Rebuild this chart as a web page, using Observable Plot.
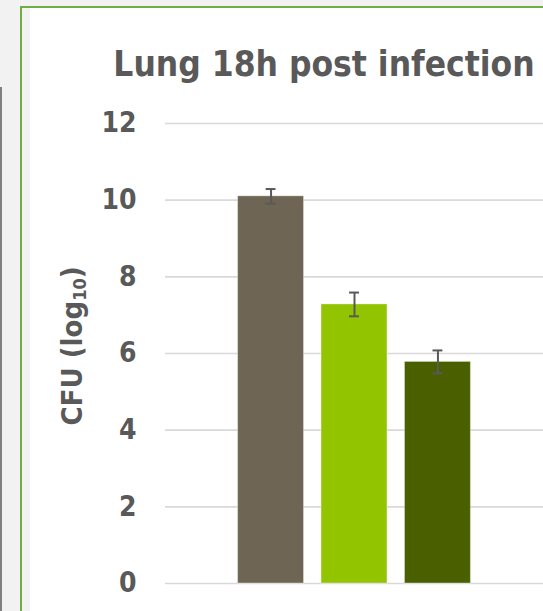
<!DOCTYPE html>
<html>
<head>
<meta charset="utf-8">
<script src="https://cdn.jsdelivr.net/npm/d3@7"></script>
<script src="https://cdn.jsdelivr.net/npm/@observablehq/plot@0.6"></script>
<style>
  html, body { margin: 0; padding: 0; }
  body { width: 543px; height: 611px; overflow: hidden; background: #f2f2f2; position: relative;
         font-family: "DejaVu Sans Condensed", "DejaVu Sans", sans-serif; font-stretch: condensed; }
  #edge { position: absolute; left: 0; top: 87px; width: 2px; height: 530px; background: #808080; }
  #panel { position: absolute; left: 20px; top: 6px; width: 700px; height: 700px;
           border-left: 2px solid #70ad47; border-top: 2px solid #70ad47; background: #fff;
           box-shadow: inset 8px 0 0 #f2f2f2; }
  #title { position: absolute; left: 0; width: 648px; top: 44px; text-align: center;
           font-size: 35px; font-weight: bold; color: #595959; line-height: 40px; white-space: nowrap; }
  #ylabel { position: absolute; left: 72px; top: 346px; transform: translate(-50%, -50%) rotate(-90deg);
            font-size: 29px; font-weight: bold; color: #595959; white-space: nowrap; line-height: 30px; }
  #ylabel sub { font-size: 0.62em; vertical-align: -0.25em; line-height: 0; }
  #chart { position: absolute; left: 0; top: 0; }
  #chart svg { background: transparent; }
</style>
</head>
<body>
<div id="edge"></div>
<div id="panel"></div>
<div id="title">Lung 18h post infection</div>
<div id="ylabel">CFU (log<sub>10</sub>)</div>
<div id="chart"></div>
<script>
const groups = ["Group 1", "Group 2", "Group 3"];
const values = [10.1, 7.28, 5.78];
const errors = [0.19, 0.31, 0.30];
const colors = ["#6e6554", "#93c400", "#4a6000"];
const yTicks = [0, 2, 4, 6, 8, 10, 12];

const data = groups.map((g, i) => ({group: g, value: values[i], err: errors[i], color: colors[i]}));

const plot = Plot.plot({
  width: 543,
  height: 611,
  marginTop: 123,
  marginBottom: 28,
  marginLeft: 165,
  marginRight: 0,
  style: {background: "transparent", fontFamily: "'DejaVu Sans Condensed', 'DejaVu Sans', sans-serif"},
  x: {domain: groups, paddingInner: 0.21, paddingOuter: 0.87, align: 0.5, round: false, axis: null},
  y: {domain: [0, 12], ticks: yTicks, axis: null},
  marks: [
    Plot.ruleY(yTicks, {y: d => d, stroke: "#d9d9d9", strokeWidth: 1.6}),
    Plot.axisY(yTicks, {tickSize: 0, tickPadding: 29, label: null, fontSize: 28, fontWeight: "bold", fill: "#595959"}),
    Plot.barY(data, {x: "group", y: "value", fill: "color", stroke: "#ffffff", strokeOpacity: 0.35, strokeWidth: 1}),
    Plot.ruleX(data, {x: "group", y1: d => d.value - d.err, y2: d => d.value + d.err, stroke: "#595959", strokeWidth: 2}),
    Plot.tickY(data, {x: "group", y: d => d.value - d.err, stroke: "#595959", strokeWidth: 2, insetLeft: 28, insetRight: 28}),
    Plot.tickY(data, {x: "group", y: d => d.value + d.err, stroke: "#595959", strokeWidth: 2, insetLeft: 28, insetRight: 28})
  ]
});
document.getElementById("chart").appendChild(plot);
</script>
</body>
</html>
